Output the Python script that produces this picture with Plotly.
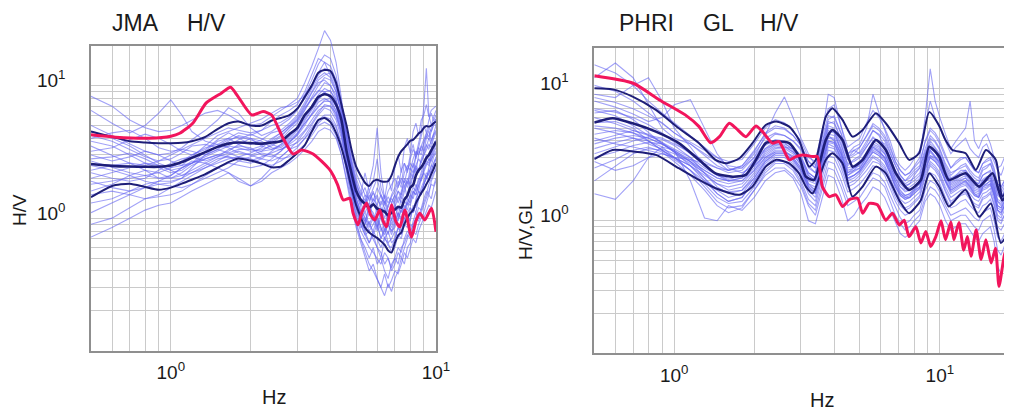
import math
import plotly.graph_objects as go

# ================= JMA (left panel) =================
jma_freq = [0.5, 0.6, 0.7, 0.8, 0.9,
            1.0, 1.1, 1.2, 1.35, 1.5, 1.65, 1.8,
            2.0, 2.2, 2.4, 2.6, 2.8,
            3.0, 3.2, 3.4, 3.6, 3.8,
            4.0, 4.2, 4.4, 4.6, 4.8,
            5.0, 5.2, 5.4, 5.6, 5.8, 6.0, 6.2, 6.4, 6.6, 6.8,
            7.0, 7.2, 7.4, 7.6, 7.8, 8.0, 8.2, 8.4, 8.6, 8.8,
            9.0, 9.2, 9.4, 9.6, 9.8, 10.0]

jma_mean = [2.56, 2.48, 2.45, 2.44, 2.44,
            2.5, 2.65, 2.85, 3.15, 3.45, 3.65, 3.72,
            3.68, 3.65, 3.72, 3.8, 4.3,
            4.8, 6.0, 6.9, 8.2, 8.6,
            8.3, 7.2, 5.5, 3.2, 2.2,
            1.6, 1.38, 1.28, 1.2, 1.27, 1.18, 1.15, 1.12, 1.05, 1.1,
            1.16, 1.22, 1.2, 1.38, 1.48, 1.7, 1.78, 2.1, 2.3, 2.42,
            2.6, 2.85, 3.0, 3.25, 3.5, 3.78]
jma_upper = [4.5, 4.1, 3.8, 3.72, 3.68,
             3.68, 3.7, 3.8, 4.1, 4.7, 5.2, 5.35,
             5.0, 5.0, 5.45, 5.7, 6.0,
             6.7, 8.2, 10.0, 12.5, 13.1,
             12.9, 10.5, 7.2, 5.0, 3.3,
             2.45, 2.1, 1.85, 1.75, 1.9, 1.95, 1.9, 1.88, 1.9, 2.1,
             2.5, 2.9, 3.2, 3.4, 3.6, 3.85, 3.9, 4.1, 4.35, 4.5,
             4.8, 4.95, 4.9, 5.0, 5.2, 5.35]
jma_lower = [1.44, 1.75, 1.82, 1.72, 1.64,
             1.7, 1.82, 1.95, 2.15, 2.4, 2.65, 2.82,
             2.72, 2.58, 2.42, 2.45, 2.75,
             3.1, 3.55, 4.5, 5.5, 5.7,
             5.3, 4.4, 3.4, 2.45, 1.7,
             1.25, 1.02, 0.85, 0.78, 0.74, 0.71, 0.67, 0.63, 0.57, 0.55,
             0.65, 0.74, 0.78, 0.9, 1.0, 1.09, 1.15, 1.3, 1.42, 1.55,
             1.65, 1.8, 1.95, 2.15, 2.35, 2.6]

jma_red_freq = [0.5, 0.62, 0.83, 1.0, 1.08, 1.21, 1.36, 1.55, 1.68, 1.79,
                2.02, 2.23, 2.40, 2.65, 2.89, 3.11, 3.44, 3.98, 4.25, 4.47,
                4.73, 4.87, 5.08, 5.25, 5.47, 5.68, 5.88, 6.14, 6.32, 6.51,
                6.80, 7.05, 7.31, 7.63, 8.09, 8.4, 8.69, 9.08, 9.62, 10.0]
jma_red = [4.25, 4.08, 4.01, 4.15, 4.37, 5.2, 7.4, 8.77, 9.7, 8.3,
           6.0, 6.37, 6.0, 4.01, 3.05, 3.27, 3.05, 2.31, 1.8, 1.37,
           1.41, 1.09, 0.89, 1.1, 1.30, 1.05, 0.97, 1.15, 0.95, 0.86,
           1.26, 0.95, 0.86, 1.15, 0.72, 0.95, 1.09, 0.97, 1.19, 0.79]

jma_thin_01 = [8.3, 7.0, 5.5, 4.8, 4.5, 4.6, 5.0, 5.5, 6.2, 6.5, 6.0, 5.4, 5.0, 5.2, 5.8, 6.5, 7.2,
               8.0, 10.5, 14.0, 19.0, 26.0, 22.0, 15.0, 8.0, 4.0, 2.5,
               1.8, 1.5, 2.2, 1.6, 1.9, 2.8, 1.7, 1.4, 2.0, 1.6,
               2.4, 3.0, 2.2, 3.4, 4.0, 3.1, 4.5, 5.2, 4.2, 5.5, 6.0, 7.2, 5.8, 6.5, 6.8, 7.0]
jma_thin_02 = [6.5, 5.2, 4.4, 5.0, 6.2, 7.8, 6.0, 4.5, 3.8, 3.6, 4.0, 4.4, 4.2, 4.6, 5.4, 6.0, 6.5,
               7.2, 9.0, 12.0, 16.0, 15.0, 12.0, 9.5, 6.0, 3.5, 2.0,
               1.4, 1.1, 0.9, 1.3, 1.0, 0.8, 1.2, 0.9, 0.75, 1.0,
               1.3, 1.0, 1.5, 1.8, 1.4, 2.0, 2.6, 2.2, 3.0, 3.5, 3.2, 4.0, 4.6, 3.8, 4.4, 5.0]
jma_thin_03 = [5.0, 4.2, 3.6, 3.2, 3.0, 3.1, 3.4, 3.9, 4.6, 5.5, 6.8, 6.2, 4.8, 4.2, 4.5, 5.0, 5.6,
               6.5, 8.5, 10.0, 12.0, 13.5, 13.0, 10.5, 7.0, 4.5, 2.8,
               2.0, 1.6, 1.3, 1.8, 2.5, 4.8, 2.2, 1.4, 1.2, 1.5,
               1.7, 2.1, 1.8, 2.6, 2.3, 3.0, 3.6, 2.8, 3.4, 4.2, 5.0, 4.4, 5.5, 6.2, 5.4, 6.0]
jma_thin_04 = [4.2, 3.8, 3.3, 2.9, 2.7, 2.8, 3.1, 3.5, 3.6, 3.4, 3.5, 3.9, 4.3, 4.0, 3.7, 4.1, 4.8,
               5.6, 7.0, 8.8, 10.5, 11.0, 10.0, 8.5, 6.5, 4.0, 2.6,
               1.7, 1.3, 1.4, 1.1, 1.3, 1.5, 1.2, 1.0, 1.25, 1.4,
               1.3, 1.6, 1.4, 1.7, 2.0, 1.8, 2.2, 2.5, 2.3, 2.8, 3.2, 3.6, 3.3, 3.9, 4.3, 4.6]
jma_thin_05 = [3.5, 3.0, 2.6, 2.5, 2.7, 3.0, 3.3, 3.2, 3.0, 3.3, 3.8, 4.2, 4.0, 3.5, 3.3, 3.6, 4.1,
               4.7, 5.8, 7.0, 8.5, 9.5, 9.0, 7.8, 5.5, 3.2, 2.1,
               1.5, 1.2, 1.0, 0.85, 1.0, 0.9, 0.7, 0.8, 0.9, 0.75,
               0.9, 1.1, 0.95, 1.2, 1.3, 1.5, 1.4, 1.7, 2.0, 1.9, 2.3, 2.6, 2.5, 2.9, 3.3, 3.6]
jma_thin_06 = [3.0, 2.7, 2.9, 3.2, 3.0, 2.7, 2.5, 2.6, 2.9, 3.2, 3.5, 3.4, 3.2, 3.3, 3.5, 3.9, 4.6,
               5.2, 6.5, 8.0, 9.2, 9.0, 8.0, 6.5, 4.8, 3.0, 1.9,
               1.3, 1.05, 0.95, 1.2, 1.1, 0.85, 1.0, 1.2, 0.9, 0.8,
               0.85, 1.0, 1.15, 1.05, 1.3, 1.25, 1.5, 1.8, 1.6, 2.0, 2.2, 2.0, 2.4, 2.8, 3.0, 3.2]
jma_thin_07 = [2.7, 2.4, 2.2, 2.1, 2.2, 2.4, 2.7, 3.0, 3.4, 3.6, 3.4, 3.1, 3.0, 3.2, 3.6, 3.4, 3.8,
               4.2, 5.0, 6.2, 7.5, 8.0, 7.5, 6.0, 4.2, 2.6, 1.7,
               1.2, 0.95, 0.8, 0.65, 0.75, 0.6, 0.5, 0.7, 0.65, 0.55,
               0.6, 0.75, 0.7, 0.9, 0.85, 1.0, 1.2, 1.1, 1.4, 1.6, 1.8, 2.1, 1.9, 2.3, 2.6, 2.8]
jma_thin_08 = [2.3, 2.5, 2.6, 2.3, 2.0, 2.0, 2.2, 2.5, 2.8, 3.0, 3.2, 3.6, 4.0, 3.8, 3.4, 3.3, 3.6,
               4.0, 4.6, 5.5, 6.5, 7.0, 7.0, 5.8, 4.6, 2.8, 1.8,
               1.3, 1.1, 1.2, 1.5, 1.3, 1.1, 1.35, 1.2, 1.0, 1.3,
               1.5, 1.3, 1.6, 1.9, 1.7, 2.2, 2.0, 2.5, 2.8, 2.6, 3.0, 3.5, 4.0, 3.6, 4.2, 4.5]
jma_thin_09 = [2.0, 2.2, 2.4, 2.6, 2.5, 2.3, 2.1, 2.2, 2.5, 2.8, 2.9, 2.8, 2.7, 2.9, 3.1, 3.3, 3.5,
               3.7, 4.2, 5.0, 6.0, 6.8, 6.5, 5.5, 4.0, 2.4, 1.5,
               1.0, 0.8, 0.7, 0.6, 0.55, 0.5, 0.45, 0.55, 0.5, 0.42,
               0.5, 0.6, 0.55, 0.7, 0.8, 0.75, 0.95, 1.1, 1.0, 1.2, 1.4, 1.6, 1.5, 1.9, 2.1, 2.4]
jma_thin_10 = [1.8, 1.9, 2.0, 2.1, 2.0, 2.1, 2.4, 2.7, 2.6, 2.4, 2.2, 1.9, 1.75, 2.0, 2.4, 2.9, 3.3,
               3.5, 4.0, 4.8, 5.5, 6.0, 6.0, 5.0, 3.6, 2.2, 1.4,
               0.95, 0.7, 0.55, 0.45, 0.4, 0.35, 0.3, 0.26, 0.32, 0.28,
               0.35, 0.4, 0.5, 0.45, 0.6, 0.65, 0.8, 0.75, 0.9, 1.0, 1.1, 1.3, 1.5, 1.4, 1.7, 1.9]
jma_thin_11 = [1.5, 1.6, 1.5, 1.4, 1.5, 1.7, 1.9, 2.1, 2.4, 2.7, 3.0, 3.2, 3.0, 2.8, 2.7, 2.9, 3.3,
               3.8, 4.5, 5.2, 6.2, 7.2, 7.0, 6.2, 4.4, 2.6, 1.6,
               1.1, 0.9, 0.75, 0.8, 0.7, 0.6, 0.55, 0.45, 0.5, 0.4,
               0.45, 0.55, 0.5, 0.6, 0.7, 0.9, 0.85, 1.0, 1.2, 1.15, 1.3, 1.5, 1.8, 2.0, 2.2, 2.3]
jma_thin_12 = [1.3, 1.4, 1.6, 1.8, 1.9, 1.9, 2.0, 2.2, 2.4, 2.6, 2.8, 2.9, 2.8, 2.6, 2.5, 2.7, 3.0,
               3.4, 4.0, 4.5, 5.2, 5.8, 5.6, 4.8, 3.6, 2.3, 1.5,
               1.05, 0.85, 0.9, 1.1, 0.95, 1.2, 1.0, 0.8, 0.95, 0.85,
               1.0, 1.2, 1.1, 1.35, 1.25, 1.5, 1.7, 1.6, 1.9, 2.2, 2.5, 3.0, 2.7, 3.2, 3.6, 3.9]
jma_thin_13 = [1.1, 1.3, 1.5, 1.7, 1.8, 1.75, 1.7, 1.8, 2.0, 2.2, 2.4, 2.7, 2.9, 3.1, 3.0, 2.8, 2.9,
               3.2, 3.6, 4.2, 5.0, 5.3, 5.0, 4.2, 3.0, 2.0, 1.3,
               0.9, 0.7, 0.6, 0.5, 0.6, 0.45, 0.5, 0.4, 0.35, 0.45,
               0.5, 0.45, 0.6, 0.65, 0.75, 0.7, 0.9, 1.0, 0.95, 1.1, 1.25, 1.4, 1.6, 1.8, 1.75, 2.0]
jma_thin_14 = [0.9, 1.0, 1.2, 1.4, 1.45, 1.5, 1.6, 1.8, 2.1, 2.4, 2.6, 2.5, 2.4, 2.5, 2.8, 3.2, 3.7,
               4.3, 5.2, 6.0, 7.0, 7.8, 8.0, 7.0, 5.0, 3.0, 1.9,
               1.3, 1.0, 1.1, 0.9, 0.8, 1.0, 0.85, 0.7, 0.8, 0.65,
               0.7, 0.85, 0.8, 1.0, 1.1, 1.2, 1.1, 1.4, 1.6, 1.5, 1.8, 2.0, 2.3, 2.2, 2.6, 2.9]
jma_thin_15 = [0.72, 0.85, 1.0, 1.15, 1.25, 1.3, 1.45, 1.6, 1.8, 2.0, 2.2, 2.0, 1.75, 1.9, 2.2, 2.4, 2.6,
               2.9, 3.3, 3.8, 4.5, 4.8, 4.6, 4.0, 3.0, 1.9, 1.2,
               0.85, 0.65, 0.5, 0.4, 0.45, 0.35, 0.3, 0.38, 0.3, 0.34,
               0.4, 0.38, 0.45, 0.55, 0.5, 0.6, 0.7, 0.65, 0.8, 0.9, 1.0, 1.1, 1.25, 1.2, 1.4, 1.6]
jma_thin_16 = [4.5, 4.0, 3.5, 3.0, 2.6, 2.4, 2.5, 2.9, 3.5, 4.2, 4.5, 4.8, 5.2, 5.6, 6.2, 6.8, 7.0,
               7.5, 8.5, 11.0, 14.5, 17.0, 16.0, 12.0, 7.5, 4.5, 3.0,
               2.2, 1.8, 1.5, 1.4, 1.7, 2.0, 1.5, 1.3, 1.6, 1.8,
               2.0, 1.7, 2.3, 2.6, 2.2, 2.8, 3.3, 3.0, 3.8, 4.5, 7.0, 13.5, 6.0, 5.0, 5.8, 6.5]
jma_thin_17 = [3.2, 3.4, 3.9, 4.3, 4.0, 3.6, 3.2, 3.0, 3.3, 3.9, 4.4, 4.0, 3.6, 3.9, 4.4, 4.6, 5.2,
               6.0, 7.5, 9.5, 11.5, 12.5, 11.5, 9.0, 6.0, 3.6, 2.3,
               1.6, 1.25, 1.5, 1.2, 1.4, 1.25, 1.5, 1.3, 1.1, 1.2,
               1.4, 1.6, 1.5, 2.0, 1.8, 2.4, 2.2, 2.9, 3.2, 3.0, 3.6, 4.2, 3.9, 4.5, 5.2, 5.6]
jma_thin_18 = [2.5, 2.3, 2.1, 1.9, 1.8, 1.85, 2.0, 2.4, 3.0, 3.3, 3.1, 2.9, 3.1, 3.4, 3.9, 4.4, 4.9,
               5.5, 6.8, 7.8, 9.0, 10.5, 10.0, 8.0, 5.2, 3.1, 2.0,
               1.4, 1.15, 1.0, 0.9, 1.05, 0.95, 0.8, 0.9, 1.05, 0.9,
               1.05, 0.95, 1.2, 1.1, 1.4, 1.3, 1.6, 1.5, 1.8, 2.1, 2.4, 2.7, 2.6, 3.0, 3.4, 3.7]
jma_thin_19 = [2.8, 2.9, 3.1, 2.8, 2.5, 2.3, 2.4, 2.6, 3.0, 3.5, 3.9, 4.1, 3.9, 3.6, 3.8, 4.2, 4.8,
               5.4, 6.6, 8.2, 10.0, 11.5, 11.0, 9.0, 6.4, 3.8, 2.4,
               1.7, 1.3, 1.1, 1.3, 1.6, 1.2, 1.05, 1.35, 1.15, 0.95,
               1.2, 1.45, 1.3, 1.6, 1.9, 1.7, 2.1, 2.4, 2.2, 2.7, 3.0, 3.3, 3.6, 3.4, 4.0, 4.4]
jma_thin_20 = [2.2, 2.0, 1.9, 2.0, 2.3, 2.6, 2.8, 2.9, 2.7, 2.9, 3.3, 3.5, 3.4, 3.0, 2.9, 3.2, 3.7,
               4.3, 5.4, 6.5, 7.8, 8.8, 8.5, 7.0, 5.0, 3.0, 1.9,
               1.35, 1.0, 0.8, 0.95, 0.75, 0.9, 0.7, 0.85, 0.65, 0.7,
               0.8, 0.7, 0.9, 1.0, 0.95, 1.2, 1.1, 1.35, 1.6, 1.5, 1.8, 2.0, 2.2, 2.5, 2.4, 2.8]
jma_thin_21 = [3.8, 3.5, 3.0, 2.6, 2.4, 2.2, 2.3, 2.6, 3.2, 3.8, 4.0, 3.6, 3.3, 3.5, 4.0, 4.4, 5.0,
               5.8, 7.2, 9.0, 11.0, 12.0, 12.5, 10.0, 6.8, 4.2, 2.7,
               1.9, 1.45, 1.7, 1.35, 1.55, 1.4, 1.25, 1.5, 1.3, 1.45,
               1.6, 1.9, 1.7, 2.2, 2.5, 2.3, 2.8, 3.2, 3.0, 3.5, 3.9, 4.4, 4.1, 4.8, 5.3, 5.0]
jma_thin_22 = [1.6, 1.8, 2.1, 2.3, 2.2, 2.0, 2.1, 2.3, 2.6, 2.9, 3.1, 3.3, 3.3, 3.2, 3.3, 3.5, 3.9,
               4.4, 5.2, 6.0, 7.0, 7.6, 7.6, 6.4, 4.5, 2.7, 1.7,
               1.2, 0.9, 0.75, 0.65, 0.8, 0.7, 0.6, 0.72, 0.62, 0.6,
               0.7, 0.85, 0.75, 0.95, 1.05, 0.95, 1.25, 1.2, 1.45, 1.7, 1.9, 2.2, 2.1, 2.5, 2.9, 3.1]
jma_thin_23 = [4.0, 4.4, 4.6, 4.0, 3.4, 3.2, 3.3, 3.6, 4.0, 4.4, 4.8, 4.6, 4.4, 4.6, 5.0, 5.3, 5.8,
               6.8, 8.0, 9.8, 12.5, 15.0, 14.0, 11.0, 7.0, 4.2, 2.6,
               1.8, 1.4, 1.25, 1.6, 1.35, 1.7, 1.45, 1.25, 1.45, 1.3,
               1.5, 1.75, 2.0, 1.85, 2.3, 2.6, 2.4, 3.0, 3.4, 3.2, 3.8, 4.3, 4.8, 4.5, 5.0, 5.6]
jma_thin_24 = [1.9, 1.7, 1.6, 1.7, 1.9, 2.1, 2.4, 2.6, 2.8, 3.0, 2.9, 2.7, 2.6, 2.8, 3.2, 3.6, 4.0,
               4.6, 5.6, 6.8, 8.0, 9.0, 9.2, 7.6, 5.4, 3.3, 2.0,
               1.4, 1.1, 0.95, 0.8, 0.9, 1.05, 0.85, 0.75, 0.9, 0.8,
               0.95, 1.1, 1.0, 1.25, 1.15, 1.4, 1.6, 1.5, 1.75, 2.0, 2.2, 2.5, 2.8, 2.7, 3.1, 3.4]

jma_thin = [jma_thin_01, jma_thin_02, jma_thin_03, jma_thin_04, jma_thin_05, jma_thin_06,
            jma_thin_07, jma_thin_08, jma_thin_09, jma_thin_10, jma_thin_11, jma_thin_12,
            jma_thin_13, jma_thin_14, jma_thin_15, jma_thin_16, jma_thin_17, jma_thin_18,
            jma_thin_19, jma_thin_20, jma_thin_21, jma_thin_22, jma_thin_23, jma_thin_24]

# ================= PHRI GL (right panel) =================
phri_freq = [0.5, 0.6, 0.7, 0.8, 0.9,
             1.0, 1.15, 1.3, 1.45, 1.6, 1.8,
             2.0, 2.2, 2.4, 2.6, 2.8,
             3.0, 3.2, 3.4, 3.6, 3.8,
             4.0, 4.25, 4.5, 4.75,
             5.0, 5.3, 5.6, 5.9, 6.2,
             6.5, 6.8, 7.1, 7.4, 7.7,
             8.0, 8.4, 8.8, 9.2, 9.6,
             10.0, 10.5, 11.0, 11.5, 12.0,
             12.5, 13.0, 13.5, 14.0, 14.5,
             15.0, 15.5, 16.0, 16.5, 17.0,
             17.5, 18.0, 18.5, 19.0]

phri_mean_freq = [0.5, 0.586, 0.697, 0.853, 1.04, 1.24, 1.43, 1.66, 1.86, 2.03, 2.21, 2.42,
                  2.71, 2.95, 3.13, 3.36, 3.72, 3.94, 4.3, 4.69, 5.12, 5.74, 6.26, 6.83,
                  7.66, 8.48, 9.12, 9.94, 10.8, 12.5, 14.06, 15.8, 17.2, 18.55, 20.0]
phri_mean = [5.5, 5.94, 5.44, 4.7, 3.85, 2.88, 2.28, 2.15, 2.22, 2.88, 3.85, 3.96,
             3.85, 3.05, 2.15, 2.03, 4.07, 4.84, 4.07, 2.56, 2.88, 4.07, 3.42, 2.28,
             1.71, 2.03, 3.62, 3.05, 2.03, 2.28, 1.81, 2.28, 1.43, 1.71, 1.6]
phri_upper_freq = [0.5, 0.586, 0.697, 0.853, 1.04, 1.24, 1.43, 1.57, 1.76, 1.97, 2.21, 2.42,
                   2.71, 2.95, 3.22, 3.41, 3.72, 3.94, 4.3, 4.69, 5.12, 5.74, 6.26, 7.03,
                   7.66, 8.35, 9.12, 9.94, 10.5, 11.15, 12.5, 13.66, 14.9, 16.25, 17.2, 18.5, 20.0]
phri_upper = [10.0, 9.8, 8.65, 6.86, 4.99, 3.85, 2.88, 2.71, 2.96, 3.85, 5.28, 5.6,
              5.13, 4.07, 2.56, 2.88, 6.1, 7.07, 5.77, 4.31, 4.84, 6.48, 5.44, 3.85,
              2.88, 3.23, 6.6, 5.2, 4.07, 3.42, 3.23, 2.42, 3.42, 2.88, 1.52, 1.92, 2.0]
phri_lower_freq = [0.5, 0.586, 0.697, 0.853, 1.04, 1.24, 1.43, 1.76, 1.97, 2.21, 2.42, 2.71,
                   2.95, 3.13, 3.32, 3.72, 3.94, 4.3, 4.69, 5.12, 5.74, 6.26, 7.03, 7.66,
                   8.48, 9.12, 9.94, 10.8, 11.15, 12.5, 14.06, 15.56, 16.98, 18.55, 20.0]
phri_lower = [2.91, 3.42, 3.33, 3.14, 2.49, 2.03, 1.76, 1.57, 1.81, 2.56, 2.88, 2.71,
              2.28, 1.81, 1.61, 2.88, 3.23, 2.71, 1.52, 1.81, 2.56, 2.28, 1.43, 1.14,
              1.43, 2.28, 1.81, 1.28, 1.35, 1.71, 1.07, 1.35, 0.68, 0.85, 0.8]

phri_red_freq = [0.5, 0.7, 0.88, 1.1, 1.24, 1.37, 1.48, 1.61, 1.71, 1.86,
                 2.03, 2.15, 2.34, 2.48, 2.71, 2.87, 3.04, 3.32, 3.46, 3.61,
                 3.83, 4.06, 4.30, 4.56, 4.90, 5.12, 5.42, 5.82, 6.26, 6.63,
                 7.03, 7.34, 7.66, 8.12, 8.48, 8.85, 9.24, 9.66, 10.1, 10.5,
                 11.0, 11.3, 11.8, 12.3, 12.7, 13.1, 13.7, 14.3, 14.9, 15.6,
                 16.2, 16.7, 17.5, 18.2, 19.0]
phri_red = [12.4, 10.9, 8.16, 6.29, 5.13, 3.88, 4.31, 5.44, 4.98, 4.31,
            5.19, 4.7, 3.85, 3.96, 2.88, 3.05, 3.14, 3.05, 3.05, 1.81,
            1.52, 1.57, 1.28, 1.44, 1.48, 1.14, 1.35, 1.32, 1.01, 1.14,
            0.93, 1.01, 0.76, 0.90, 0.68, 0.83, 0.64, 0.76, 1.0, 0.72,
            0.98, 0.72, 0.97, 0.60, 0.76, 0.54, 0.85, 0.51, 0.72, 0.48,
            0.62, 0.32, 0.55, 0.68, 0.5]

phri_thin_01 = [15.0, 13.0, 10.5, 8.0, 6.5, 5.5, 4.4, 3.6, 3.0, 2.8, 2.9, 3.8, 5.0, 5.8, 5.5, 4.8,
                4.0, 3.0, 2.8, 4.8, 7.0, 7.5, 5.2, 3.6, 3.9, 4.2, 5.5, 6.8, 6.0, 5.0,
                4.0, 3.0, 2.6, 2.4, 2.6, 2.9, 3.4, 5.2, 8.0, 6.0, 5.0, 4.0, 3.2, 3.6, 3.9,
                4.2, 3.5, 3.2, 3.0, 3.6, 3.8, 3.3, 2.8, 2.4, 2.2, 2.6, 2.9, 2.6, 2.4]
phri_thin_02 = [12.0, 15.5, 12.0, 7.5, 5.0, 4.2, 3.8, 3.2, 2.8, 2.4, 2.5, 3.2, 4.2, 4.6, 4.4, 4.0,
                3.5, 2.6, 2.3, 3.8, 5.6, 5.4, 4.2, 3.0, 3.2, 3.6, 4.4, 5.2, 4.8, 4.2,
                3.3, 2.6, 2.2, 2.0, 2.2, 2.4, 2.6, 4.0, 5.0, 4.6, 4.0, 3.1, 2.5, 2.8, 3.0,
                3.0, 2.7, 2.4, 2.3, 2.7, 2.9, 3.0, 2.5, 1.9, 1.8, 2.0, 2.3, 2.2, 2.0]
phri_thin_03 = [9.0, 8.5, 10.5, 12.0, 8.0, 5.0, 3.6, 2.6, 2.2, 2.0, 2.1, 2.6, 3.5, 4.0, 3.9, 3.4,
                2.7, 1.9, 1.8, 2.9, 4.6, 4.8, 3.3, 2.2, 2.4, 2.5, 3.0, 3.6, 3.3, 3.0,
                2.4, 1.9, 1.6, 1.5, 1.5, 1.7, 1.8, 2.7, 3.4, 3.0, 2.7, 2.0, 1.7, 1.8, 1.9,
                2.0, 1.8, 1.6, 1.5, 1.8, 1.9, 2.0, 1.6, 1.2, 1.1, 1.3, 1.5, 1.4, 1.3]
phri_thin_04 = [8.5, 7.8, 7.0, 6.2, 5.5, 4.6, 3.9, 3.4, 3.0, 2.6, 2.5, 3.0, 4.4, 6.5, 8.6, 6.0,
                4.2, 3.2, 2.6, 3.9, 5.8, 6.2, 4.6, 3.0, 3.4, 3.2, 3.8, 4.8, 4.4, 3.6,
                3.0, 2.3, 2.0, 1.8, 1.9, 2.2, 2.5, 3.3, 4.2, 3.9, 3.4, 2.6, 2.2, 2.4, 2.5,
                2.6, 2.3, 2.1, 2.0, 2.4, 2.5, 2.7, 2.2, 1.7, 1.6, 1.8, 2.0, 1.9, 1.8]
phri_thin_05 = [8.0, 7.2, 6.4, 5.6, 6.0, 7.5, 8.2, 5.0, 3.2, 2.5, 2.3, 2.6, 3.1, 3.5, 3.6, 3.5,
                3.0, 2.3, 2.1, 3.2, 4.4, 4.0, 3.2, 2.3, 2.5, 2.6, 3.1, 3.6, 3.4, 3.0,
                2.5, 2.0, 1.7, 1.55, 1.6, 1.75, 1.9, 2.7, 3.1, 3.0, 2.8, 2.2, 1.8, 1.9, 2.0,
                2.1, 1.9, 1.7, 1.65, 1.9, 2.0, 2.1, 1.7, 1.3, 1.25, 1.4, 1.55, 1.5, 1.4]
phri_thin_06 = [7.0, 6.6, 6.0, 5.3, 4.6, 3.9, 3.2, 2.6, 2.2, 2.1, 2.2, 2.8, 3.5, 3.8, 3.7, 3.3,
                2.9, 2.2, 2.0, 3.4, 5.2, 5.0, 3.8, 2.6, 2.9, 3.1, 3.6, 4.2, 4.0, 3.8,
                3.0, 2.4, 2.1, 1.9, 2.0, 2.1, 2.3, 3.2, 4.0, 3.6, 3.2, 2.5, 2.1, 2.2, 2.4,
                2.4, 2.2, 2.0, 1.9, 2.2, 2.3, 2.4, 2.0, 1.6, 1.5, 1.7, 1.9, 1.8, 1.7]
phri_thin_07 = [6.5, 6.8, 5.8, 4.6, 3.8, 3.3, 2.8, 2.4, 2.1, 2.0, 2.0, 2.4, 3.0, 3.3, 3.3, 3.1,
                2.7, 2.0, 1.9, 3.0, 4.3, 4.2, 3.2, 2.3, 2.4, 2.7, 3.1, 3.7, 3.5, 3.2,
                2.6, 2.1, 1.8, 1.7, 1.7, 1.8, 2.0, 2.8, 3.5, 3.3, 2.9, 2.3, 1.9, 2.0, 2.1,
                2.2, 2.0, 1.8, 1.75, 2.0, 2.1, 2.2, 1.8, 1.4, 1.35, 1.5, 1.65, 1.6, 1.5]
phri_thin_08 = [6.0, 5.4, 4.8, 4.4, 4.2, 3.8, 3.3, 2.8, 2.5, 2.3, 2.4, 3.0, 3.9, 4.5, 4.4, 4.0,
                3.4, 2.5, 2.3, 3.6, 5.4, 5.6, 4.0, 2.9, 3.1, 3.3, 4.0, 4.8, 4.5, 4.0,
                3.2, 2.6, 2.2, 2.0, 2.1, 2.3, 2.5, 3.5, 4.4, 4.0, 3.5, 2.7, 2.3, 2.4, 2.6,
                2.7, 2.4, 2.2, 2.1, 2.5, 2.6, 2.7, 2.3, 1.8, 1.7, 1.9, 2.1, 2.0, 1.9]
phri_thin_09 = [5.5, 5.6, 5.0, 4.0, 3.4, 3.0, 2.6, 2.2, 1.9, 1.8, 1.9, 2.4, 3.2, 3.6, 3.5, 3.2,
                2.6, 1.9, 1.7, 2.8, 4.0, 3.9, 3.0, 2.1, 2.2, 2.4, 2.8, 3.3, 3.1, 2.8,
                2.3, 1.8, 1.55, 1.45, 1.5, 1.6, 1.75, 2.4, 3.0, 2.8, 2.5, 2.0, 1.65, 1.75, 1.85,
                1.9, 1.75, 1.55, 1.5, 1.75, 1.8, 1.9, 1.55, 1.2, 1.15, 1.3, 1.4, 1.35, 1.3]
phri_thin_10 = [5.0, 4.6, 4.2, 3.8, 3.5, 3.2, 2.7, 2.3, 2.0, 1.9, 2.0, 2.5, 3.3, 3.7, 3.6, 3.3,
                2.8, 2.1, 2.0, 3.1, 4.5, 4.4, 3.4, 2.4, 2.5, 2.7, 3.2, 3.8, 3.6, 3.2,
                2.6, 2.1, 1.8, 1.65, 1.7, 1.8, 2.0, 2.8, 3.4, 3.1, 2.8, 2.2, 1.85, 1.95, 2.05,
                2.1, 1.95, 1.75, 1.7, 1.95, 2.0, 2.1, 1.75, 1.4, 1.3, 1.45, 1.6, 1.55, 1.45]
phri_thin_11 = [4.5, 4.8, 4.6, 4.0, 3.4, 2.9, 2.4, 2.0, 1.75, 1.65, 1.7, 2.1, 2.8, 3.2, 3.2, 2.9,
                2.4, 1.8, 1.6, 2.6, 3.8, 3.6, 2.8, 2.0, 2.1, 2.3, 2.7, 3.1, 2.9, 2.6,
                2.1, 1.7, 1.45, 1.35, 1.4, 1.5, 1.65, 2.3, 2.8, 2.6, 2.3, 1.8, 1.5, 1.6, 1.7,
                1.75, 1.6, 1.45, 1.4, 1.6, 1.65, 1.75, 1.45, 1.1, 1.05, 1.2, 1.3, 1.25, 1.2]
phri_thin_12 = [4.0, 4.4, 4.8, 4.5, 3.9, 3.3, 2.6, 2.0, 1.6, 1.4, 1.5, 2.0, 2.6, 3.0, 3.0, 2.7,
                2.2, 1.6, 1.4, 2.3, 3.4, 3.3, 2.5, 1.8, 1.9, 2.1, 2.4, 2.8, 2.7, 2.4,
                1.9, 1.5, 1.3, 1.2, 1.25, 1.35, 1.5, 2.1, 2.6, 2.4, 2.1, 1.65, 1.35, 1.45, 1.55,
                1.6, 1.45, 1.3, 1.25, 1.45, 1.5, 1.6, 1.3, 1.0, 0.95, 1.1, 1.2, 1.15, 1.1]
phri_thin_13 = [3.5, 3.9, 4.2, 4.0, 3.6, 3.0, 2.4, 1.9, 1.5, 1.35, 1.4, 1.8, 2.4, 2.8, 2.8, 2.5,
                2.0, 1.45, 1.3, 2.1, 3.1, 3.0, 2.3, 1.65, 1.75, 1.9, 2.2, 2.6, 2.5, 2.2,
                1.75, 1.4, 1.2, 1.1, 1.15, 1.25, 1.35, 1.9, 2.3, 2.2, 1.9, 1.5, 1.25, 1.3, 1.4,
                1.45, 1.3, 1.2, 1.15, 1.3, 1.35, 1.45, 1.2, 0.9, 0.85, 0.95, 1.05, 1.0, 0.95]
phri_thin_14 = [3.0, 3.3, 3.7, 3.9, 3.8, 3.4, 2.8, 2.1, 1.6, 1.4, 1.5, 2.0, 2.7, 3.1, 3.1, 2.8,
                2.3, 1.7, 1.5, 2.4, 3.6, 3.5, 2.7, 1.9, 2.0, 2.2, 2.6, 3.0, 2.8, 2.5,
                2.0, 1.6, 1.35, 1.25, 1.3, 1.4, 1.55, 2.2, 2.7, 2.5, 2.2, 1.7, 1.4, 1.5, 1.6,
                1.65, 1.5, 1.35, 1.3, 1.5, 1.55, 1.65, 1.35, 1.05, 1.0, 1.1, 1.25, 1.2, 1.15]
phri_thin_15 = [2.5, 2.9, 3.4, 3.6, 3.3, 2.8, 2.2, 1.7, 1.3, 1.15, 1.25, 1.7, 2.3, 2.7, 2.7, 2.4,
                1.9, 1.35, 1.2, 1.9, 2.8, 2.7, 2.0, 1.45, 1.55, 1.7, 2.0, 2.3, 2.2, 1.95,
                1.55, 1.25, 1.05, 0.95, 1.0, 1.1, 1.2, 1.7, 2.0, 1.9, 1.65, 1.3, 1.1, 1.15, 1.2,
                1.25, 1.15, 1.05, 1.0, 1.15, 1.2, 1.25, 1.0, 0.75, 0.7, 0.8, 0.9, 0.85, 0.8]
phri_thin_16 = [2.0, 2.6, 3.2, 3.5, 3.4, 3.0, 2.4, 1.8, 1.4, 1.25, 1.3, 1.7, 2.2, 2.5, 2.5, 2.2,
                1.8, 1.3, 1.1, 1.7, 2.5, 2.4, 1.8, 1.3, 1.4, 1.5, 1.8, 2.1, 2.0, 1.8,
                1.4, 1.1, 0.95, 0.85, 0.9, 1.0, 1.1, 1.5, 1.8, 1.7, 1.5, 1.2, 1.0, 1.05, 1.1,
                1.1, 1.0, 0.9, 0.85, 1.0, 1.05, 1.1, 0.85, 0.6, 0.55, 0.65, 0.75, 0.7, 0.65]
phri_thin_17 = [1.6, 1.45, 2.0, 3.0, 3.6, 3.4, 2.0, 1.05, 1.0, 1.3, 1.2, 1.5, 2.0, 2.3, 2.4, 2.1,
                1.6, 1.0, 0.95, 1.5, 2.2, 2.1, 1.5, 1.0, 1.1, 1.3, 1.5, 1.8, 1.7, 1.5,
                1.2, 0.95, 0.8, 0.75, 0.8, 0.9, 1.0, 1.4, 1.6, 1.5, 1.3, 1.0, 0.85, 0.9, 0.95,
                0.95, 0.85, 0.75, 0.7, 0.8, 0.85, 0.9, 0.7, 0.45, 0.4, 0.5, 0.55, 0.5, 0.45]
phri_thin_18 = [4.2, 3.8, 3.6, 3.4, 3.2, 3.0, 2.9, 2.7, 2.5, 2.4, 2.6, 3.3, 4.6, 5.2, 5.0, 4.4,
                3.7, 2.8, 2.5, 4.4, 9.0, 8.5, 5.0, 3.2, 3.6, 3.8, 5.0, 9.0, 6.5, 4.8,
                3.6, 2.8, 2.4, 2.2, 2.3, 2.6, 3.0, 6.0, 14.0, 8.0, 6.0, 4.5, 3.5, 4.0, 4.5,
                5.0, 8.0, 4.0, 3.5, 4.2, 4.5, 3.8, 3.0, 2.5, 2.6, 3.0, 3.3, 3.0, 2.8]
phri_thin_19 = [6.8, 6.2, 5.2, 4.4, 3.9, 3.5, 3.0, 2.5, 2.2, 2.05, 2.2, 2.9, 3.7, 4.1, 4.0, 3.6,
                3.1, 2.3, 2.1, 3.5, 5.0, 4.8, 3.7, 2.7, 2.8, 3.0, 3.6, 4.3, 3.9, 3.5,
                2.8, 2.3, 2.0, 1.85, 1.9, 2.0, 2.2, 3.1, 3.8, 3.5, 3.1, 2.4, 2.0, 2.2, 2.3,
                2.4, 2.1, 1.95, 1.9, 2.2, 2.3, 2.3, 1.95, 1.55, 1.5, 1.65, 1.8, 1.75, 1.65]
phri_thin_20 = [5.2, 5.0, 4.6, 4.2, 3.8, 3.4, 2.9, 2.4, 2.1, 2.0, 2.1, 2.7, 3.4, 3.8, 3.8, 3.5,
                3.0, 2.2, 2.0, 3.2, 4.8, 4.6, 3.5, 2.5, 2.6, 2.8, 3.3, 4.0, 3.7, 3.3,
                2.7, 2.2, 1.9, 1.75, 1.8, 1.9, 2.1, 2.9, 3.6, 3.3, 2.9, 2.3, 1.95, 2.05, 2.2,
                2.25, 2.05, 1.85, 1.8, 2.05, 2.15, 2.2, 1.85, 1.45, 1.4, 1.55, 1.7, 1.65, 1.55]
phri_thin_21 = [3.8, 4.2, 4.4, 4.2, 3.8, 3.3, 2.8, 2.3, 1.9, 1.7, 1.8, 2.3, 3.0, 3.4, 3.4, 3.0,
                2.5, 1.8, 1.65, 2.7, 4.0, 3.9, 2.9, 2.1, 2.2, 2.4, 2.9, 3.4, 3.2, 2.9,
                2.3, 1.85, 1.6, 1.5, 1.55, 1.65, 1.8, 2.5, 3.1, 2.9, 2.6, 2.0, 1.7, 1.8, 1.9,
                1.95, 1.8, 1.6, 1.55, 1.8, 1.85, 1.9, 1.6, 1.25, 1.2, 1.35, 1.45, 1.4, 1.35]
phri_thin_22 = [10.5, 9.5, 8.0, 6.5, 5.4, 4.6, 3.8, 3.1, 2.6, 2.4, 2.6, 3.4, 4.5, 5.0, 4.9, 4.4,
                3.7, 2.8, 2.5, 4.2, 6.2, 6.0, 4.5, 3.2, 3.4, 3.6, 4.4, 5.4, 5.0, 4.4,
                3.5, 2.8, 2.4, 2.2, 2.3, 2.5, 2.8, 3.9, 4.8, 4.4, 3.8, 3.0, 2.5, 2.7, 2.9,
                3.0, 2.7, 2.4, 2.3, 2.7, 2.8, 2.9, 2.4, 1.9, 1.8, 2.0, 2.2, 2.1, 2.0]
phri_thin_23 = [3.2, 3.6, 4.0, 4.3, 4.1, 3.7, 3.0, 2.3, 1.8, 1.6, 1.7, 2.2, 2.9, 3.3, 3.3, 3.0,
                2.5, 1.85, 1.7, 2.8, 4.2, 4.1, 3.1, 2.2, 2.35, 2.5, 3.0, 3.5, 3.3, 3.0,
                2.4, 1.95, 1.65, 1.55, 1.6, 1.7, 1.9, 2.6, 3.3, 3.0, 2.7, 2.1, 1.75, 1.85, 1.95,
                2.0, 1.85, 1.65, 1.6, 1.85, 1.9, 2.0, 1.65, 1.3, 1.25, 1.4, 1.5, 1.45, 1.4]
phri_thin_24 = [2.8, 2.4, 2.6, 3.0, 3.2, 3.0, 2.6, 2.1, 1.7, 1.5, 1.6, 2.1, 2.8, 3.2, 3.2, 2.9,
                2.4, 1.75, 1.6, 2.6, 3.9, 3.8, 2.9, 2.05, 2.2, 2.35, 2.8, 3.3, 3.1, 2.8,
                2.25, 1.8, 1.55, 1.45, 1.5, 1.6, 1.75, 2.45, 3.0, 2.8, 2.5, 1.95, 1.6, 1.7, 1.8,
                1.85, 1.7, 1.55, 1.5, 1.7, 1.75, 1.85, 1.55, 1.2, 1.15, 1.3, 1.4, 1.35, 1.3]

phri_thin = [phri_thin_01, phri_thin_02, phri_thin_03, phri_thin_04, phri_thin_05, phri_thin_06,
             phri_thin_07, phri_thin_08, phri_thin_09, phri_thin_10, phri_thin_11, phri_thin_12,
             phri_thin_13, phri_thin_14, phri_thin_15, phri_thin_16, phri_thin_17, phri_thin_18,
             phri_thin_19, phri_thin_20, phri_thin_21, phri_thin_22, phri_thin_23, phri_thin_24]

# ticks / grid values
tick_vals = [1, 10]
tick_text = ['10<sup>0</sup>', '10<sup>1</sup>']
x_minor_vals = [0.5, 0.6, 0.7, 0.8, 0.9, 2, 3, 4, 5, 6, 7, 8, 9, 20]
y_minor_vals = [0.2, 0.3, 0.4, 0.5, 0.6, 0.7, 0.8, 0.9, 2, 3, 4, 5, 6, 7, 8, 9, 20]

for s in [jma_mean, jma_upper, jma_lower] + jma_thin:
    assert len(s) == len(jma_freq), len(s)
for s in phri_thin:
    assert len(s) == len(phri_freq), len(s)
assert len(jma_red) == len(jma_red_freq)
assert len(phri_red) == len(phri_red_freq)
assert len(phri_mean) == len(phri_mean_freq)
assert len(phri_upper) == len(phri_upper_freq)
assert len(phri_lower) == len(phri_lower_freq)

# ================= layout geometry (pixels in the 1012x411 window) =================
OFF = 8                      # the page body margin shifts the figure by 8 px
W, H = 1012 - OFF, 411 - OFF
FONT = 'Liberation Sans, Arial, Helvetica, sans-serif'
GRID = '#cacaca'
BORDER = '#8f8f8f'
THIN = 'rgba(100,100,242,0.6)'
NAVY = '#1e1e78'
RED = '#f2155c'

L_px = (91, 436, 45.7, 350.7)     # x0, x1, ytop, ybottom
R_px = (594.3, 1012, 48.3, 353.3)
DEC_R = 265.6                      # px per decade on the right x axis
EXTRA = 26                         # px above the left box where thin lines still show


def fx(p):
    return (p - OFF) / W


def fy(p):
    return 1 - (p - OFF) / H


fig = go.Figure()

# invisible trace so the left grid axes are drawn
fig.add_trace(go.Scatter(x=[1], y=[1], mode='markers', marker=dict(opacity=0),
                         xaxis='x', yaxis='y', hoverinfo='skip', showlegend=False))

for ys in jma_thin:
    fig.add_trace(go.Scatter(x=jma_freq, y=ys, mode='lines', line=dict(color=THIN, width=1.1),
                             xaxis='x3', yaxis='y3', hoverinfo='skip', showlegend=False))
for ys, w in [(jma_upper, 2), (jma_lower, 2), (jma_mean, 2.6)]:
    fig.add_trace(go.Scatter(x=jma_freq, y=ys, mode='lines',
                             line=dict(color=NAVY, width=w, shape='spline', smoothing=0.6),
                             xaxis='x3', yaxis='y3', hoverinfo='skip', showlegend=False))
fig.add_trace(go.Scatter(x=jma_red_freq, y=jma_red, mode='lines',
                         line=dict(color=RED, width=3, shape='spline', smoothing=0.6),
                         xaxis='x3', yaxis='y3', hoverinfo='skip', showlegend=False))

for ys in phri_thin:
    fig.add_trace(go.Scatter(x=phri_freq, y=ys, mode='lines', line=dict(color=THIN, width=1.1),
                             xaxis='x2', yaxis='y2', hoverinfo='skip', showlegend=False))
for xs, ys, w in [(phri_upper_freq, phri_upper, 2), (phri_lower_freq, phri_lower, 2),
                  (phri_mean_freq, phri_mean, 2.6)]:
    fig.add_trace(go.Scatter(x=xs, y=ys, mode='lines',
                             line=dict(color=NAVY, width=w, shape='spline', smoothing=0.6),
                             xaxis='x2', yaxis='y2', hoverinfo='skip', showlegend=False))
fig.add_trace(go.Scatter(x=phri_red_freq, y=phri_red, mode='lines',
                         line=dict(color=RED, width=3, shape='spline', smoothing=0.6),
                         xaxis='x2', yaxis='y2', hoverinfo='skip', showlegend=False))

tickfont = dict(family=FONT, size=19, color='#1a1a1a')


def xaxis_cfg(domain, rng, mirror):
    return dict(type='log', domain=domain, range=rng, tickmode='array', tickvals=tick_vals,
                ticktext=tick_text, showgrid=True, gridcolor=GRID, gridwidth=1,
                minor=dict(tickmode='array', tickvals=x_minor_vals, showgrid=True,
                           gridcolor=GRID, gridwidth=1, ticks=''),
                ticks='', showline=True, linecolor=BORDER, linewidth=1.5, mirror=mirror,
                zeroline=False, tickfont=tickfont, automargin=False, ticklabelstandoff=4)


def yaxis_cfg(domain, mirror, anchor):
    return dict(type='log', domain=domain, range=[-1, math.log10(20)], tickmode='array',
                tickvals=tick_vals, ticktext=tick_text, showgrid=True, gridcolor=GRID,
                gridwidth=1,
                minor=dict(tickmode='array', tickvals=y_minor_vals, showgrid=True,
                           gridcolor=GRID, gridwidth=1, ticks=''),
                ticks='', showline=True, linecolor=BORDER, linewidth=1.5, mirror=mirror,
                zeroline=False, tickfont=tickfont, automargin=False, anchor=anchor,
                ticklabelstandoff=20, ticklabelshift=-5)


lx0 = math.log10(0.5)
left_xrange = [lx0, 1.0001]
right_xrange = [lx0, lx0 + (R_px[1] - R_px[0]) / DEC_R]
ytop_log = math.log10(20)
dec_y = (L_px[3] - L_px[2]) / (ytop_log + 1)

fig.update_layout(
    width=W, height=H,
    margin=dict(l=0, r=0, t=0, b=0),
    paper_bgcolor='white', plot_bgcolor='rgba(0,0,0,0)',
    showlegend=False,
    xaxis=dict(xaxis_cfg([fx(L_px[0]), fx(L_px[1])], left_xrange, True), anchor='y'),
    yaxis=yaxis_cfg([fy(L_px[3]), fy(L_px[2])], True, 'x'),
    xaxis2=dict(xaxis_cfg([fx(R_px[0]), 1.0], right_xrange, True), anchor='y2'),
    yaxis2=yaxis_cfg([fy(R_px[3]), fy(R_px[2])], False, 'x2'),
    xaxis3=dict(type='log', domain=[fx(L_px[0]), fx(L_px[1])], range=left_xrange,
                visible=False, anchor='y3'),
    yaxis3=dict(type='log', domain=[fy(L_px[3]), fy(L_px[2] - EXTRA)],
                range=[-1, ytop_log + EXTRA / dec_y], visible=False, anchor='x3'),
)


def ann(text, px, py, size, xanchor='center', angle=0):
    fig.add_annotation(text=text, x=fx(px), y=fy(py), xref='paper', yref='paper',
                       showarrow=False, xanchor=xanchor, yanchor='middle', textangle=angle,
                       font=dict(family=FONT, size=size, color='#1a1a1a'))


ann('JMA', 110, 23, 23, 'left')
ann('H/V', 185, 23, 23, 'left')
ann('PHRI', 617, 23, 23, 'left')
ann('GL', 701, 23, 23, 'left')
ann('H/V', 758, 23, 23, 'left')
ann('Hz', 273.5, 397, 20)
ann('Hz', 822, 400, 20)
ann('H/V', 20, 210, 19, angle=-90)
ann('H/V,GL', 525, 230, 19, angle=-90)

fig.write_html('out.html')
